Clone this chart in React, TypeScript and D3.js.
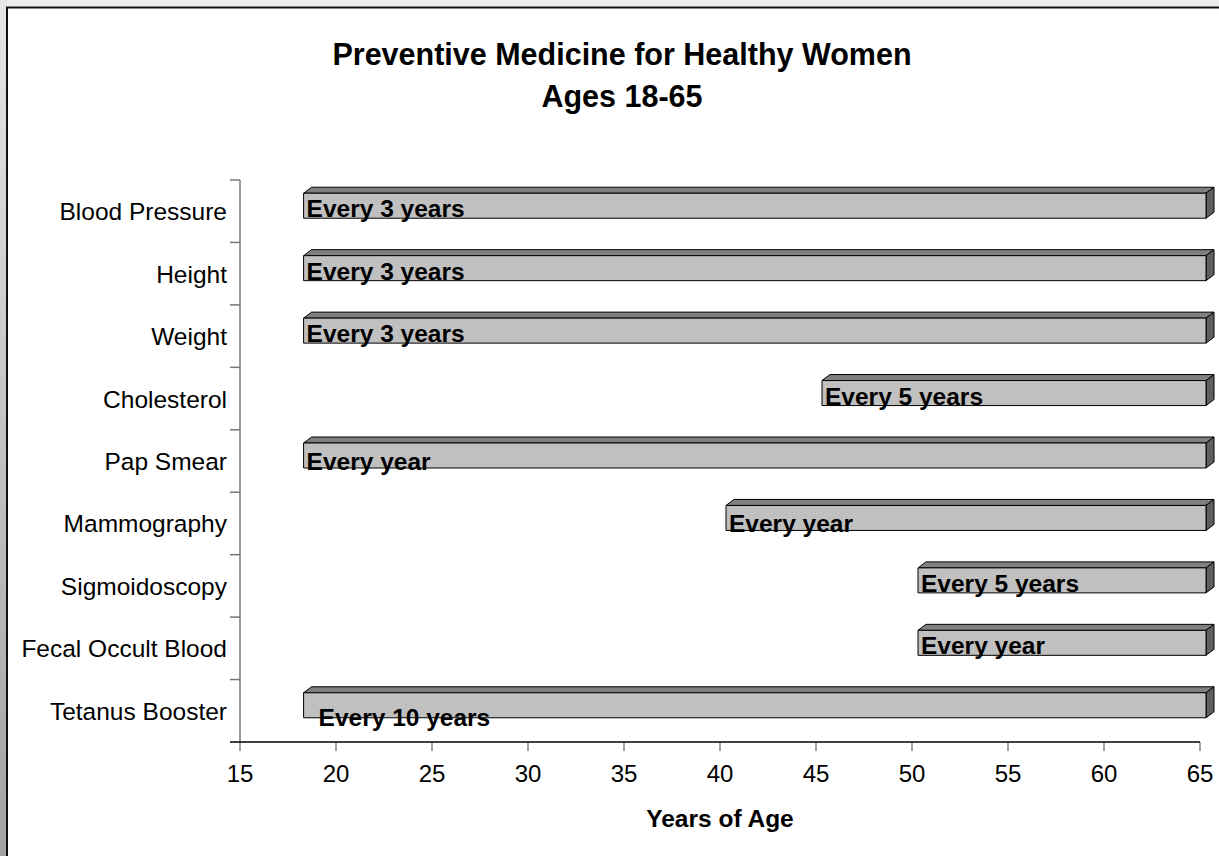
import React from 'react';
import { scaleLinear, scaleBand } from 'd3';

// screening items, top to bottom
const categories = [
    'Blood Pressure',
    'Height',
    'Weight',
    'Cholesterol',
    'Pap Smear',
    'Mammography',
    'Sigmoidoscopy',
    'Fecal Occult Blood',
    'Tetanus Booster'
];
const startAges = [18, 18, 18, 45, 18, 40, 50, 50, 18];
const endAges = [65, 65, 65, 65, 65, 65, 65, 65, 65];
const frequencies = [
    'Every 3 years',
    'Every 3 years',
    'Every 3 years',
    'Every 5 years',
    'Every year',
    'Every year',
    'Every 5 years',
    'Every year',
    'Every 10 years'
];
const xTicks = [15, 20, 25, 30, 35, 40, 45, 50, 55, 60, 65];
const titleLines = ['Preventive Medicine for Healthy Women', 'Ages 18-65'];
const xAxisTitle = 'Years of Age';

const FONT = '"Liberation Sans", Arial, sans-serif';

const App: React.FC = () => {
    const width = 1219;
    const height = 856;
    const plot = { left: 240, right: 1200, top: 180, bottom: 742 };

    const xScale = scaleLinear().domain([15, 65]).range([plot.left, plot.right]);
    const yScale = scaleBand<string>().domain(categories).range([plot.top, plot.bottom]);

    // 3D bar geometry
    const shiftX = 6;
    const depthX = 8;
    const depthY = 6;
    const barH = 25;

    // Excel placed a few labels slightly differently
    const labelNudge: Record<string, { dx: number; dy: number }> = {
        'Pap Smear': { dx: 0, dy: 3 },
        'Mammography': { dx: 0, dy: 3 },
        'Tetanus Booster': { dx: 12, dy: 9 }
    };

    return (
        <svg
            width={width}
            height={height}
            style={{ position: 'absolute', left: 0, top: 0, display: 'block' }}
        >
            <defs>
                <linearGradient id="edge" x1="0" y1="0" x2="0" y2="1">
                    <stop offset="0" stopColor="#e6e6e6" />
                    <stop offset="1" stopColor="#a2a2a2" />
                </linearGradient>
            </defs>
            <rect width={width} height={height} fill="#ececec" />
            <rect x={0} y={0} width={7} height={height} fill="url(#edge)" />
            <rect x={7} y={7.5} width={width + 20} height={height + 20} fill="#fff" stroke="#111" strokeWidth={2} />

            {/* title */}
            <g fontFamily={FONT} fontWeight="bold" fontSize={30.5} textAnchor="middle" fill="#000">
                {titleLines.map((t, i) => (
                    <text key={t} x={622} y={65 + i * 42}>{t}</text>
                ))}
            </g>

            {/* bars */}
            {categories.map((c, i) => {
                const cy = (yScale(c) as number) + yScale.bandwidth() / 2;
                const y0 = cy - 18;
                const y1 = y0 + barH;
                const x0 = xScale(startAges[i]) + shiftX;
                const x1 = xScale(endAges[i]) + shiftX;
                const nudge = labelNudge[c] || { dx: 0, dy: 0 };
                return (
                    <g key={c} stroke="#000" strokeWidth={1} strokeLinejoin="round">
                        <path
                            d={`M${x0},${y0} L${x0 + depthX},${y0 - depthY} L${x1 + depthX},${y0 - depthY} L${x1},${y0} Z`}
                            fill="#808080"
                        />
                        <path
                            d={`M${x1},${y0} L${x1 + depthX},${y0 - depthY} L${x1 + depthX},${y1 - depthY} L${x1},${y1} Z`}
                            fill="#5f5f5f"
                        />
                        <rect x={x0} y={y0} width={x1 - x0} height={barH} fill="#c0c0c0" />
                        <text
                            x={x0 + 3 + nudge.dx}
                            y={y1 - 1 + nudge.dy}
                            stroke="none"
                            fill="#000"
                            fontFamily={FONT}
                            fontWeight="bold"
                            fontSize={24.5}
                        >
                            {frequencies[i]}
                        </text>
                    </g>
                );
            })}

            {/* y axis */}
            <g stroke="#777" strokeWidth={1.5}>
                <line x1={plot.left} x2={plot.left} y1={plot.top} y2={plot.bottom} />
                {categories.map(c => (
                    <line key={c} x1={plot.left - 10} x2={plot.left} y1={yScale(c) as number} y2={yScale(c) as number} />
                ))}
            </g>
            <g fontFamily={FONT} fontSize={24.5} textAnchor="end" fill="#000">
                {categories.map(c => (
                    <text key={c} x={227} y={(yScale(c) as number) + yScale.bandwidth() / 2 + 9}>{c}</text>
                ))}
            </g>

            {/* x axis */}
            <g stroke="#888" strokeWidth={1.5}>
                {xTicks.map(t => (
                    <line key={t} x1={xScale(t)} x2={xScale(t)} y1={plot.bottom} y2={plot.bottom + 9} />
                ))}
            </g>
            <line x1={plot.left - 10} x2={plot.right} y1={plot.bottom} y2={plot.bottom} stroke="#000" strokeWidth={1.5} />
            <g fontFamily={FONT} fontSize={24} textAnchor="middle" fill="#000">
                {xTicks.map(t => (
                    <text key={t} x={xScale(t)} y={782}>{t}</text>
                ))}
            </g>
            <text
                x={(plot.left + plot.right) / 2}
                y={827}
                textAnchor="middle"
                fontFamily={FONT}
                fontWeight="bold"
                fontSize={24.5}
            >
                {xAxisTitle}
            </text>
        </svg>
    );
};

export default App;
